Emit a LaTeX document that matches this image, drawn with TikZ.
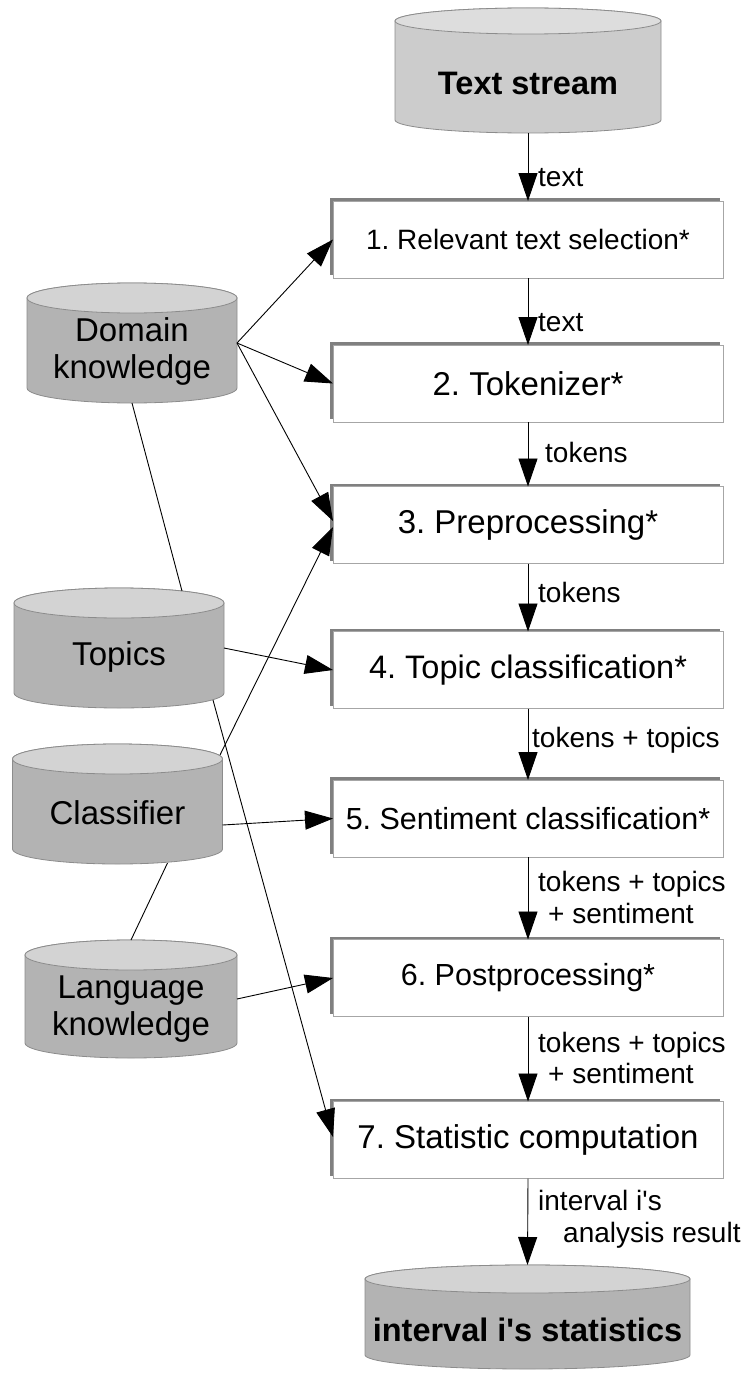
\documentclass[tikz,border=0pt]{standalone}
\usepackage{fontspec}
\setmainfont{Liberation Sans}
\usetikzlibrary{arrows.meta,calc,shadows}

\definecolor{dbbody}{HTML}{B3B3B3}
\definecolor{dbtop}{HTML}{D3D3D3}
\definecolor{srcbody}{HTML}{CCCCCC}
\definecolor{srctop}{HTML}{DDDDDD}
\definecolor{dbedge}{HTML}{8C8C8C}
\definecolor{boxedge}{HTML}{A6A6A6}
\definecolor{boxshade}{HTML}{808080}

% #1 name, #2/#3 centre, #4 half width, #5 half height, #6 end radius, #7 colour prefix
\newcommand\database[7]{%
  \node[dbbox, minimum width={2*#4pt}, minimum height={2*#5pt}] (#1) at (#2,#3) {};
  \filldraw[dbdraw, fill=#7body] ($(#1.north west)+(0,#6)$) -- ($(#1.south west)+(0,-#6)$)
    arc[start angle=180, end angle=360, x radius=#4pt, y radius=#6pt]
    -- ($(#1.north east)+(0,#6)$)
    arc[start angle=0, end angle=180, x radius=#4pt, y radius=#6pt] -- cycle;
  \filldraw[dbdraw, fill=#7top] ($(#1.north)+(0,#6)$) ellipse[x radius=#4pt, y radius=#6pt];
}

\tikzset{
  dbbox/.style={inner sep=0pt, outer sep=0pt},
  dbdraw/.style={draw=dbedge, line width=0.8pt},
  dbtext/.style={inner sep=0pt, align=center, font=\fontsize{33}{37.5}\selectfont},
  dbhead/.style={inner sep=0pt, align=center, font=\fontsize{32.5}{37}\selectfont\bfseries},
  stagebox/.style={draw=boxedge, line width=0.8pt, fill=white, inner sep=0pt, outer sep=0pt,
    minimum width=390pt, minimum height=77pt,
    drop shadow={shadow xshift=-3pt, shadow yshift=3pt, fill=boxshade, opacity=1}},
  flow/.style={line width=0.9pt, -{Triangle[length=28pt,width=19pt]}},
  link/.style={line width=0.9pt},
  elab/.style={anchor=west, inner sep=0pt, align=left, font=\fontsize{28}{31.5}\selectfont}
}

\begin{document}
\frenchspacing
\begin{tikzpicture}[x=1pt, y=-1pt]
\useasboundingbox (0,0) rectangle (747,1378);

% data stores
\database{ts}{528}{70.5}{133}{62.5}{13}{src}
\node[dbhead] (ts-l) at ($(ts.center)+(0,12.5)$) {Text stream};
\database{dk}{132}{343}{105}{60}{15}{db}
\node[dbtext] (dk-l) at ($(dk.center)+(0,8.5)$) {Domain\\knowledge};
\database{tp}{119}{648}{105}{60}{15}{db}
\node[dbtext] (tp-l) at ($(tp.center)+(0,9)$) {Topics};
\database{cl}{117.5}{804}{105}{60}{15}{db}
\node[dbtext] (cl-l) at ($(cl.center)+(0,9)$) {Classifier};
\database{lk}{131}{999}{106}{59}{15}{db}
\node[dbtext] (lk-l) at ($(lk.center)+(0,10)$) {Language\\knowledge};
\database{st}{527.5}{1317}{162.5}{52}{14}{db}
\node[dbhead] (st-l) at ($(st.center)+(0,13)$) {interval i\textquotesingle s statistics};

% processing stages
\node[stagebox, font=\fontsize{28}{32}\selectfont]   (b1) at (528,239.5) {1. Relevant text selection*};
\node[stagebox, font=\fontsize{33}{37}\selectfont]   (b2) at (528,383.5) {2. Tokenizer*};
\node[stagebox, font=\fontsize{33}{37}\selectfont]   (b3) at (528,525)   {3. Preprocessing*};
\node[stagebox, font=\fontsize{32.5}{37}\selectfont] (b4) at (528,670)   {4. Topic classification*};
\node[stagebox, font=\fontsize{30.5}{35}\selectfont] (b5) at (528,818.5) {5. Sentiment classification*};
\node[stagebox, font=\fontsize{30.5}{35}\selectfont] (b6) at (528,978)   {6. Postprocessing*};
\node[stagebox, font=\fontsize{33}{37}\selectfont]   (b7) at (528,1140)  {7. Statistic computation};

% main pipeline
\draw[flow] (ts.south) -- (b1.north);
\draw[flow] (b1.south) -- (b2.north);
\draw[flow] (b2.south) -- (b3.north);
\draw[flow] (b3.south) -- (b4.north);
\draw[flow] (b4.south) -- (b5.north);
\draw[flow] (b5.south) -- (b6.north);
\draw[flow] (b6.south) -- (b7.north);
\draw[flow] (b7.south) -- (st.north);

\node[elab] (e1) at (538,178) {text};
\node[elab] (e2) at (538,323) {text};
\node[elab] (e3) at (545,452) {tokens};
\node[elab] (e4) at (538,592) {tokens};
\node[elab] (e5) at (532,740) {tokens + topics};
\node[elab] (e6) at (538,897.5) {tokens + topics\\\hspace*{10pt}+ sentiment};
\node[elab] (e7) at (538,1058) {tokens + topics\\\hspace*{10pt}+ sentiment};
\node[elab] (e8) at (538,1219) {interval i\textquotesingle s\\\hspace*{25pt}analysis result};

% resources feeding the stages
\draw[flow] (dk.east) -- (b1.west);
\draw[flow] (dk.east) -- (b2.west);
\draw[flow] (dk.east) -- ($(b3.west)+(0,-4)$);
\draw[link] (dk.south) -- ($(tp.north)+(63,3)$);
\draw[flow] (tp.east) -- (b4.west);
\draw[flow] ($(tp.south east)+(-11,-8)$) -- ($(b7.west)+(0,-3)$);
\draw[flow] ($(cl.north east)+(-2.5,11)$) -- ($(b3.west)+(0,2)$);
\draw[flow] ($(cl.east)+(0,21)$) -- (b5.west);
\draw[link] ($(cl.south)+(50,-1)$) -- (lk.north);
\draw[flow] (lk.east) -- (b6.west);
\end{tikzpicture}
\end{document}
